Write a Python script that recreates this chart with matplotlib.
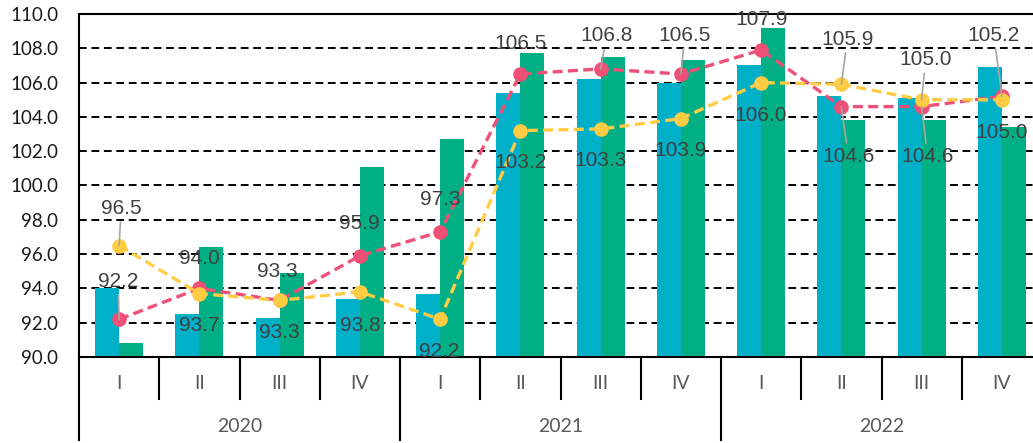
import numpy as np
import matplotlib.pyplot as plt

# ---------------- data ----------------
years = ["2020", "2021", "2022"]
quarters = ["I", "II", "III", "IV"]
blue_vals = [94.0, 92.5, 92.3, 93.4, 93.7, 105.4, 106.2, 106.0, 107.0, 105.2, 105.1, 106.9]
green_vals = [90.8, 96.4, 94.9, 101.1, 102.7, 107.7, 107.5, 107.3, 109.2, 103.8, 103.8, 103.4]
red_vals = [92.2, 94.0, 93.3, 95.9, 97.3, 106.5, 106.8, 106.5, 107.9, 104.6, 104.6, 105.2]
yellow_vals = [96.5, 93.7, 93.3, 93.8, 92.2, 103.2, 103.3, 103.9, 106.0, 105.9, 105.0, 105.0]

# label offsets (pixels) and which labels get a leader line
red_off = [(-1, 38), (0, 30), (-2, 29), (-1, 32), (0, 32), (0, 31), (6, 33), (4, 39),
           (0, 31), (7, -50), (6, -50), (-8, 61)]
red_lead = [1, 0, 0, 0, 0, 0, 1, 1, 0, 1, 1, 1]
yel_off = [(2, 37), (0, -32), (0, -32), (0, -34), (-1, -32), (0, -32), (0, -32), (0, -32),
           (0, -33), (6, 45), (4, 40), (0, -33)]
yel_lead = [1, 0, 0, 0, 0, 0, 0, 0, 0, 1, 1, 0]

BLUE = "#00B0C8"
GREEN = "#00B084"
RED = "#EE5078"
YELLOW = "#FFCC44"
TXT = "#404040"

plt.rcParams['font.family'] = ['Lato', 'DejaVu Sans']
lab_font = ['Liberation Sans Narrow', 'Liberation Sans', 'DejaVu Sans']

fig = plt.figure(figsize=(10.33, 4.43), dpi=100)
ax = fig.add_axes([79/1033, 86/443, 963/1033, 343/443])

x = np.arange(len(blue_vals))
ax.bar(x - 0.15, blue_vals, 0.3, color=BLUE, zorder=1)
ax.bar(x + 0.15, green_vals, 0.3, color=GREEN, zorder=1)

ax.plot(x, red_vals, color=RED, lw=2.4, dashes=(3, 1.6), marker='o', ms=10.5,
        markeredgewidth=0, zorder=3)
ax.plot(x, yellow_vals, color=YELLOW, lw=2.4, dashes=(3, 1.6), marker='o', ms=10.5,
        markeredgewidth=0, zorder=4)

def put_labels(vals, offs, leads):
    for i, v in enumerate(vals):
        dx, dy = offs[i]
        ap = None
        if leads[i]:
            ap = dict(arrowstyle='-', color='#A6A6A6', lw=1.2, shrinkA=1, shrinkB=0)
        ax.annotate(f"{v:.1f}", (x[i], v), xytext=(dx*0.72, dy*0.72),
                    textcoords='offset points', ha='center', va='center',
                    fontsize=15, color=TXT, family=lab_font, arrowprops=ap, zorder=6)

put_labels(red_vals, red_off, red_lead)
put_labels(yellow_vals, yel_off, yel_lead)

ax.set_xlim(-0.5, 11.5)
ax.set_ylim(90, 110)
ax.set_yticks(np.arange(90, 110.1, 2))
ax.set_yticklabels([f"{t:.1f}" for t in np.arange(90, 110.1, 2)])
ax.tick_params(axis='y', length=0, pad=15, labelsize=13.5, labelcolor='#1a1a1a')
ax.set_xticks([])

ax.yaxis.grid(True, color='black', linestyle=(0, (4, 2.4)), linewidth=1.4)
ax.set_axisbelow(True)
ax.spines['right'].set_visible(False)
for s in ['left', 'top', 'bottom']:
    ax.spines[s].set_color('black')
    ax.spines[s].set_linewidth(1.5)

# two-level category axis
trans = ax.get_xaxis_transform()
for b in np.arange(-0.5, 12, 1):
    long = (b + 0.5) % 4 == 0
    ax.plot([b, b], [0, -0.242 if long else -0.122], transform=trans, clip_on=False,
            color='black', lw=1.5)
for i in x:
    ax.text(i, -0.076, quarters[i % 4], transform=trans, ha='center', va='center',
            fontsize=14, color='#595959')
for j, yr in enumerate(years):
    ax.text(4*j + 1.5, -0.204, yr, transform=trans, ha='center', va='center',
            fontsize=14, color='#595959')

fig.savefig("out.png", dpi=100)
